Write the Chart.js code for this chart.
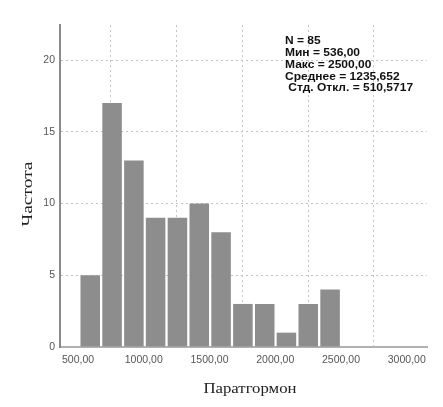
<!DOCTYPE html>
<html>
<head>
<meta charset="utf-8">
<script src="https://cdn.jsdelivr.net/npm/chart.js@4"></script>
<style>
  html, body { margin: 0; padding: 0; background: #fff; }
  #wrap { width: 443px; height: 407px; }
</style>
</head>
<body>
<div id="wrap"><canvas id="hist" width="443" height="407"></canvas></div>
<script>
// histogram bins (centres) and counts
const binCenters = [593, 759, 925, 1090, 1256, 1422, 1588, 1754, 1920, 2085, 2251, 2417];
const counts = [5, 17, 13, 9, 9, 10, 8, 3, 3, 1, 3, 4];
const xTicks = [500, 1000, 1500, 2000, 2500, 3000];
const yTicks = [0, 5, 10, 15, 20];
const statsLines = [
    'N = 85',
    'Мин = 536,00',
    'Макс = 2500,00',
    'Среднее = 1235,652',
    ' Стд. Откл. = 510,5717'
];
const xTitle = 'Паратгормон';
const yTitle = 'Частота';

const serif = '"Liberation Serif", "Times New Roman", serif';
const sans = '"Liberation Sans", Arial, sans-serif';

// text and axis titles, drawn a bit wider like the original export
const textPlugin = {
    id: 'extraText',
    afterDraw(chart) {
        const ctx = chart.ctx;
        ctx.save();
        ctx.fillStyle = '#111';
        ctx.font = 'bold 10px ' + sans;
        ctx.textBaseline = 'middle';
        statsLines.forEach((line, i) => {
            ctx.save();
            ctx.translate(285, 41.5 + i * 11.8);
            ctx.scale(1.2, 1);
            ctx.fillText(line, 0, 0);
            ctx.restore();
        });

        ctx.fillStyle = '#222';
        ctx.font = '14px ' + serif;
        ctx.textBaseline = 'alphabetic';
        ctx.textAlign = 'center';
        let w = ctx.measureText(xTitle).width;
        ctx.save();
        ctx.translate(250, 392.5);
        ctx.scale(93 / w, 1);
        ctx.fillText(xTitle, 0, 0);
        ctx.restore();

        ctx.font = '15px ' + serif;
        w = ctx.measureText(yTitle).width;
        ctx.save();
        ctx.translate(32, 194);
        ctx.rotate(-Math.PI / 2);
        ctx.scale(65 / w, 1);
        ctx.fillText(yTitle, 0, 0);
        ctx.restore();
        ctx.restore();
    }
};

new Chart(document.getElementById('hist'), {
    type: 'bar',
    data: {
        datasets: [{
            data: binCenters.map((x, i) => ({ x: x, y: counts[i] })),
            backgroundColor: '#8d8d8d',
            borderWidth: 0,
            barPercentage: 0.9,
            categoryPercentage: 1
        }]
    },
    options: {
        responsive: false,
        animation: false,
        layout: { padding: { top: 25, right: 16, left: 0, bottom: 0 } },
        plugins: { legend: { display: false }, tooltip: { enabled: false } },
        scales: {
            x: {
                type: 'linear',
                min: 363,
                max: 3154,
                offset: false,
                afterBuildTicks: s => { s.ticks = xTicks.map(v => ({ value: v })); },
                afterFit: s => { s.height = 60; },
                grid: { color: '#c4c4c4', lineWidth: 1, drawTicks: false },
                border: { display: true, color: '#b0b0b0', width: 2, dash: [2, 3] },
                ticks: {
                    padding: 7,
                    color: '#555',
                    font: { size: 10.5, family: sans },
                    callback: v => v.toFixed(2).replace('.', ',')
                }
            },
            y: {
                min: 0,
                max: 22.44,
                afterBuildTicks: s => { s.ticks = yTicks.map(v => ({ value: v })); },
                afterFit: s => { s.width = 60; },
                grid: { color: '#c4c4c4', lineWidth: 1, drawTicks: false },
                border: { display: true, color: '#8a8a8a', width: 2, dash: [2, 3] },
                ticks: {
                    padding: 5,
                    color: '#555',
                    font: { size: 10.5, family: sans }
                }
            }
        }
    },
    plugins: [textPlugin]
});
</script>
</body>
</html>
